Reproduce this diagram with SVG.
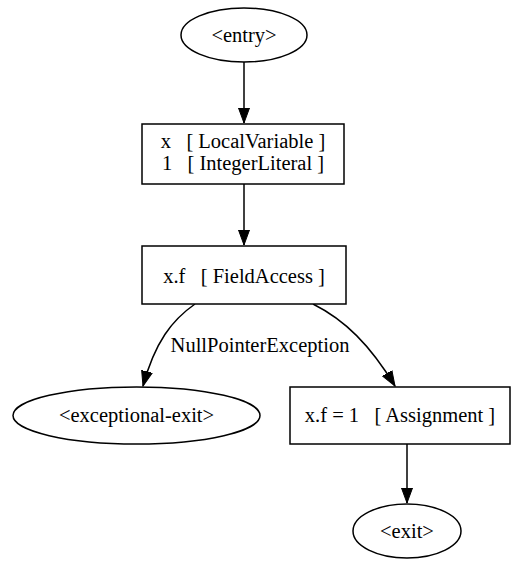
<svg xmlns="http://www.w3.org/2000/svg" width="512" height="561" viewBox="0 0 512 561">
<defs>
<marker id="ah" markerWidth="16" markerHeight="12" refX="15" refY="6" viewBox="0 0 16 12" markerUnits="userSpaceOnUse" orient="auto">
<path d="M0,0.5 L15,6 L0,11.5 Z" fill="#000" stroke="#000" stroke-width="1"/>
</marker>
<style>
.n{fill:#fff;stroke:#000;stroke-width:1.5}
.t{font-family:"Liberation Serif","Times New Roman",serif;font-size:20.5px;fill:#000;text-anchor:middle}
.e{fill:none;stroke:#000;stroke-width:1.5;marker-end:url(#ah)}
</style>
</defs>
<rect width="512" height="561" fill="#fff"/>
<g id="edges">
<path class="e" d="M244,62 L244,123"/>
<path class="e" d="M244,184 L244,245"/>
<path class="e" d="M195,304 C172,320 155,342 143,386"/>
<path class="e" d="M313,304 C345,320 370,345 395,386"/>
<path class="e" d="M407,444 L407,503"/>
<text class="t" x="260" y="352">NullPointerException</text>
</g>
<g id="entry">
<ellipse class="n" cx="244" cy="35" rx="63" ry="27"/>
<text class="t" x="244" y="42">&lt;entry&gt;</text>
</g>
<g id="n1">
<rect class="n" x="142" y="124" width="202" height="60"/>
<text class="t" x="243" y="148" xml:space="preserve">x   [ LocalVariable ]</text>
<text class="t" x="243" y="170" xml:space="preserve">1   [ IntegerLiteral ]</text>
</g>
<g id="n2">
<rect class="n" x="142" y="246" width="204" height="58"/>
<text class="t" x="244" y="283" xml:space="preserve">x.f   [ FieldAccess ]</text>
</g>
<g id="exceptional-exit">
<ellipse class="n" cx="136.5" cy="415.5" rx="123.5" ry="28.5"/>
<text class="t" x="136.5" y="422">&lt;exceptional-exit&gt;</text>
</g>
<g id="n3">
<rect class="n" x="290" y="387" width="220" height="57"/>
<text class="t" x="400" y="422" xml:space="preserve">x.f = 1   [ Assignment ]</text>
</g>
<g id="exit">
<ellipse class="n" cx="407" cy="531" rx="54" ry="27"/>
<text class="t" x="407" y="538">&lt;exit&gt;</text>
</g>
</svg>
